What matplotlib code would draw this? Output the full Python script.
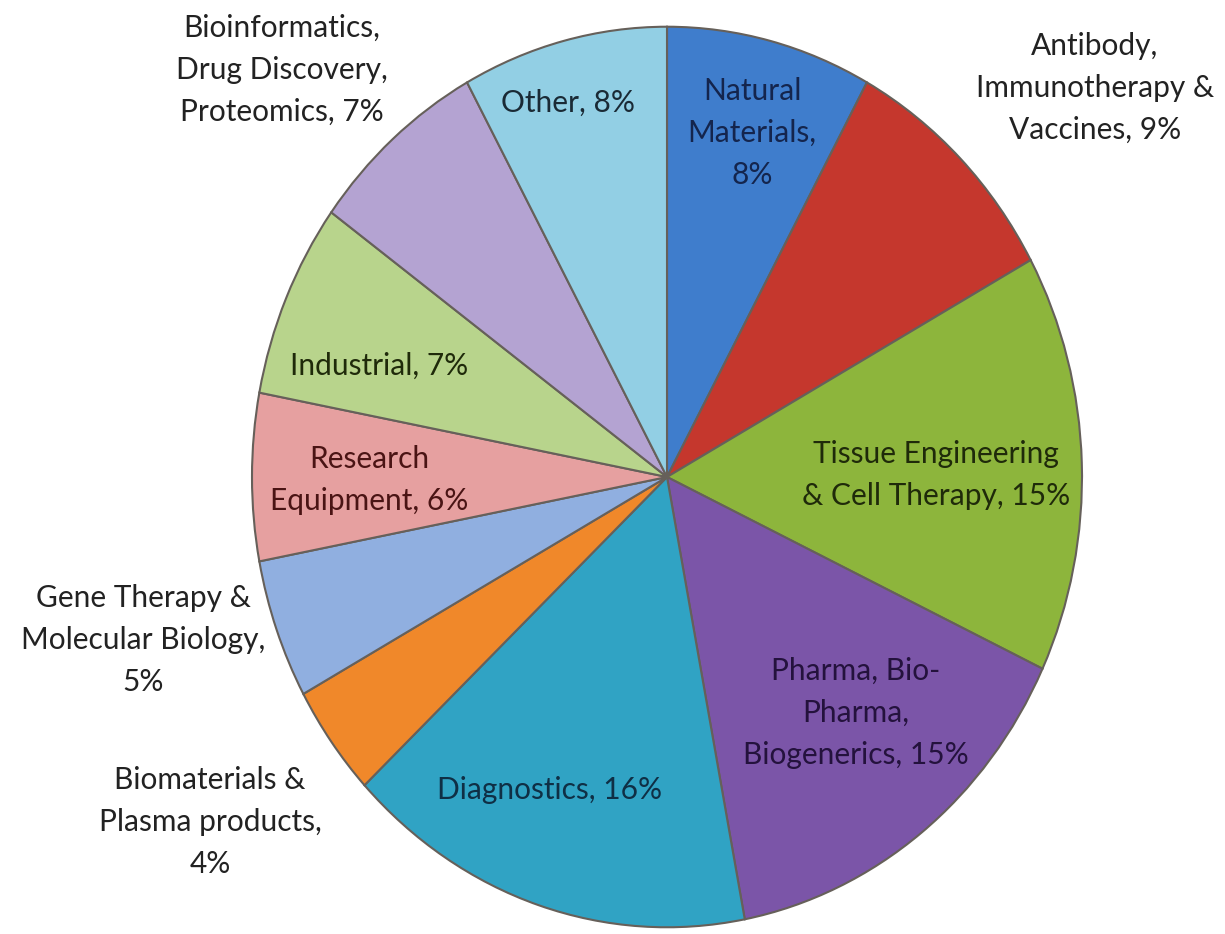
import matplotlib.pyplot as plt

# Market segments, clockwise from 12 o'clock
segments = ["Natural Materials", "Antibody, Immunotherapy & Vaccines",
            "Tissue Engineering & Cell Therapy", "Pharma, Bio-Pharma, Biogenerics",
            "Diagnostics", "Biomaterials & Plasma products",
            "Gene Therapy & Molecular Biology", "Research Equipment",
            "Industrial", "Bioinformatics, Drug Discovery, Proteomics", "Other"]
shares = [8, 9, 15, 15, 16, 4, 5, 6, 7, 7, 8]
label_text = ["Natural\nMaterials,\n8%", "Antibody,\nImmunotherapy &\nVaccines, 9%",
              "Tissue Engineering\n& Cell Therapy, 15%", "Pharma, Bio-\nPharma,\nBiogenerics, 15%",
              "Diagnostics, 16%", "Biomaterials &\nPlasma products,\n4%",
              "Gene Therapy &\nMolecular Biology,\n5%", "Research\nEquipment, 6%",
              "Industrial, 7%", "Bioinformatics,\nDrug Discovery,\nProteomics, 7%", "Other, 8%"]

colors = ["#3f7dcc", "#c5372d", "#8db53c", "#7b55a8", "#30a3c4", "#f0882a",
          "#90afe0", "#e6a0a0", "#b8d48c", "#b4a3d2", "#92cfe4"]
text_colors = ["#14254d", "#222222", "#1f2a0a", "#24123d", "#0f2f45", "#222222",
               "#222222", "#4a1414", "#1f2a0a", "#222222", "#1a2a35"]
# label centres in figure pixels (x, y from top)
label_pos = [(752, 133), (1095, 88), (936, 475), (856, 713), (550, 790),
             (210, 822), (143, 640), (369, 480), (379, 366), (282, 70), (568, 103)]

W, H = 1225, 934
fig = plt.figure(figsize=(W / 100, H / 100), dpi=100)
ax = fig.add_axes([0, 0, 1, 1])

# pie is a little taller than wide
stretch = 1.085
cx, cy, r = 667, (H - 477) / stretch, 415
wedges, _ = ax.pie(shares, colors=colors, startangle=90, counterclock=False,
                   center=(cx, cy), radius=r,
                   wedgeprops=dict(edgecolor="#66605a", linewidth=1.5))
ax.set_aspect("auto")
ax.set_xlim(0, W)
ax.set_ylim(0, H / stretch)
ax.axis("off")

for txt, (px, py), tc in zip(label_text, label_pos, text_colors):
    fig.text(px / W, 1 - py / H, txt, ha="center", va="center", ma="center",
             fontsize=21.5, family="Lato", color=tc, linespacing=1.6)

fig.savefig("out.png", dpi=100, facecolor="white")
